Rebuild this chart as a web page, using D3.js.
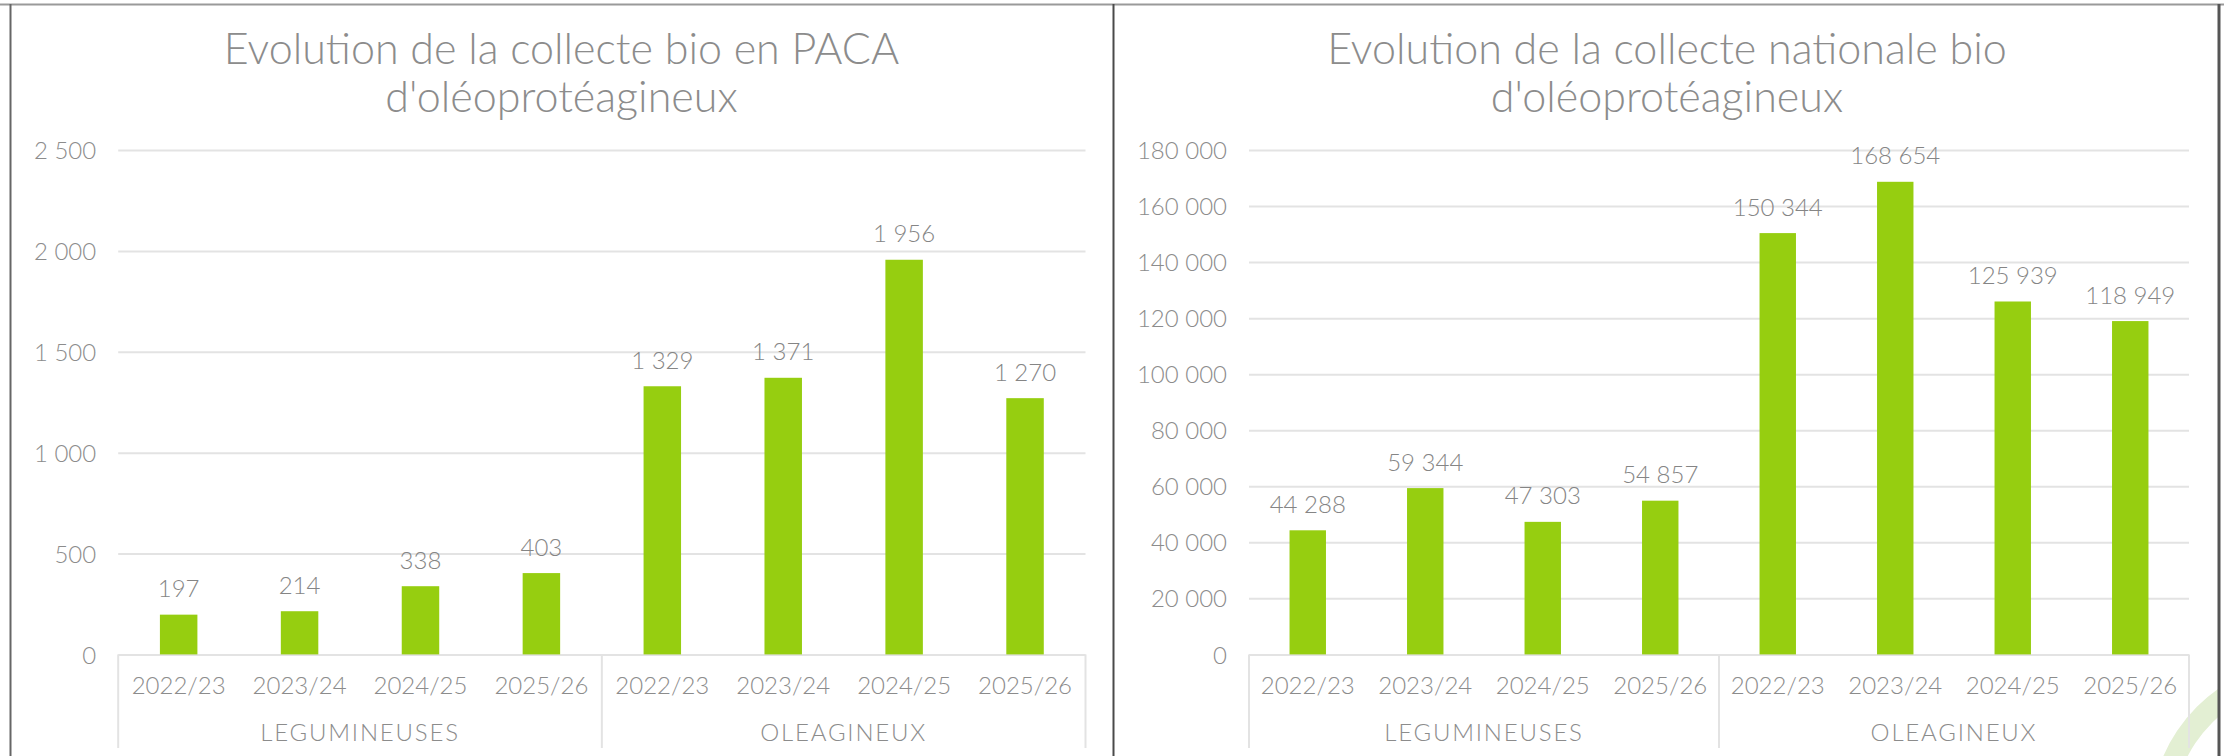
<!DOCTYPE html>
<html>
<head>
<meta charset="utf-8">
<script src="https://cdn.jsdelivr.net/npm/d3@7"></script>
<style>
  html, body { margin: 0; padding: 0; background: #ffffff; }
  svg { display: block; }
</style>
</head>
<body>
<svg id="chart" width="2224" height="756"></svg>
<script>
// ---------------- DATA ----------------
const seasons = ["2022/23", "2023/24", "2024/25", "2025/26"];
const groups = ["LEGUMINEUSES", "OLEAGINEUX"];

const pacaTitle = ["Evolution de la collecte bio en PACA", "d'oléoprotéagineux"];
const pacaLegumineuses = [197, 214, 338, 403];
const pacaOleagineux = [1329, 1371, 1956, 1270];
const pacaTicks = [0, 500, 1000, 1500, 2000, 2500];

const natTitle = ["Evolution de la collecte nationale bio", "d'oléoprotéagineux"];
const natLegumineuses = [44288, 59344, 47303, 54857];
const natOleagineux = [150344, 168654, 125939, 118949];
const natTicks = [0, 20000, 40000, 60000, 80000, 100000, 120000, 140000, 160000, 180000];

// ---------------- STYLE ----------------
const FONT = "Lato, 'Open Sans', sans-serif";
const WEIGHT = 300;
const textColor = "#8c8c8c";
const labelColor = "#858585";
const barColor = "#96ce10";
const gridColor = "#e3e3e3";

const fmt = d3.formatLocale({ decimal: ",", thousands: "\u00a0", grouping: [3], currency: ["", " €"] }).format(",d");

const svg = d3.select("#chart");

// watermark arc (bottom-right)
const defs = svg.append("defs");
defs.append("clipPath").attr("id", "clipR").append("rect")
  .attr("x", 0).attr("y", 0).attr("width", 2218).attr("height", 756);
svg.append("g").attr("clip-path", "url(#clipR)")
  .append("path")
  .attr("transform", "translate(2310,820)")
  .attr("d", d3.arc()({ innerRadius: 138, outerRadius: 160, startAngle: 0, endAngle: 2 * Math.PI }))
  .attr("fill", "#e3efd3");

const yTop = 150, yBase = 654.4;

const panels = [
  { title: pacaTitle, leg: pacaLegumineuses, ole: pacaOleagineux, ticks: pacaTicks, max: 2500, x0: 118.2, x1: 1085.5, cx: 561.5 },
  { title: natTitle, leg: natLegumineuses, ole: natOleagineux, ticks: natTicks, max: 180000, x0: 1249, x1: 2189, cx: 1667 }
];

function styleText(sel, size, color) {
  return sel.attr("font-family", FONT).attr("font-weight", WEIGHT)
    .attr("font-size", size).attr("fill", color || textColor);
}

// compute title font size so that the long national title is ~680px wide
const probe = styleText(svg.append("text").text(natTitle[0]), 36);
const titleSize = 36 * 680 / probe.node().getComputedTextLength();
probe.remove();

function drawPanel(p) {
  const g = svg.append("g");
  const keys = groups.flatMap(gr => seasons.map(s => gr + "|" + s));
  const values = [...p.leg, ...p.ole];
  const data = keys.map((k, i) => ({ key: k, value: values[i] }));

  const x = d3.scaleBand().domain(keys).range([p.x0, p.x1]).paddingInner(0.69).paddingOuter(0.345);
  const xg = d3.scaleBand().domain(groups).range([p.x0, p.x1]);
  const y = d3.scaleLinear().domain([0, p.max]).range([yBase, yTop]);

  // title
  p.title.forEach((t, i) => {
    styleText(g.append("text"), titleSize)
      .attr("x", p.cx).attr("y", i === 0 ? 64 : 112)
      .attr("text-anchor", "middle").text(t);
  });

  // gridlines + y tick labels
  const ya = g.append("g").attr("transform", `translate(${p.x0},0)`)
    .call(d3.axisLeft(y).tickValues(p.ticks).tickSize(-(p.x1 - p.x0)).tickSizeOuter(0).tickPadding(22).tickFormat(fmt));
  ya.select(".domain").remove();
  ya.selectAll(".tick line").attr("stroke", gridColor).attr("stroke-width", 2);
  styleText(ya.selectAll(".tick text"), 24).attr("dy", "0.36em");

  // category axis: season labels
  const xa = g.append("g").attr("transform", `translate(0,${yBase})`)
    .call(d3.axisBottom(x).tickSize(0).tickFormat(k => k.split("|")[1]));
  xa.select(".domain").remove();
  styleText(xa.selectAll(".tick text"), 24).attr("y", 39.6).attr("dy", null);

  // group dividers
  const divX = [...groups.map(gr => xg(gr)), p.x1];
  g.selectAll(".div").data(divX).enter().append("line")
    .attr("x1", d => d).attr("x2", d => d)
    .attr("y1", yBase).attr("y2", 748)
    .attr("stroke", gridColor).attr("stroke-width", 2);

  // group labels
  styleText(g.selectAll(".grp").data(groups).enter().append("text"), 24)
    .attr("x", d => xg(d) + xg.bandwidth() / 2).attr("y", 740.7)
    .attr("text-anchor", "middle").attr("letter-spacing", 1.8).text(d => d);

  // bars
  g.selectAll(".bar").data(data).enter().append("rect")
    .attr("x", d => x(d.key)).attr("width", x.bandwidth())
    .attr("y", d => y(d.value)).attr("height", d => yBase - y(d.value))
    .attr("fill", barColor);

  // data labels
  styleText(g.selectAll(".lbl").data(data).enter().append("text"), 24, labelColor)
    .attr("x", d => x(d.key) + x.bandwidth() / 2).attr("y", d => y(d.value) - 17.5)
    .attr("text-anchor", "middle").text(d => fmt(d.value));
}

panels.forEach(drawPanel);

// borders
svg.append("line").attr("x1", 0).attr("x2", 2224).attr("y1", 4.5).attr("y2", 4.5)
  .attr("stroke", "#9a9a9a").attr("stroke-width", 2);
svg.append("line").attr("x1", 10.5).attr("x2", 10.5).attr("y1", 4).attr("y2", 756)
  .attr("stroke", "#666666").attr("stroke-width", 2);
svg.append("line").attr("x1", 1113.5).attr("x2", 1113.5).attr("y1", 4).attr("y2", 756)
  .attr("stroke", "#4a4a4a").attr("stroke-width", 2);
svg.append("line").attr("x1", 2219).attr("x2", 2219).attr("y1", 4).attr("y2", 756)
  .attr("stroke", "#555555").attr("stroke-width", 3);
</script>
</body>
</html>
